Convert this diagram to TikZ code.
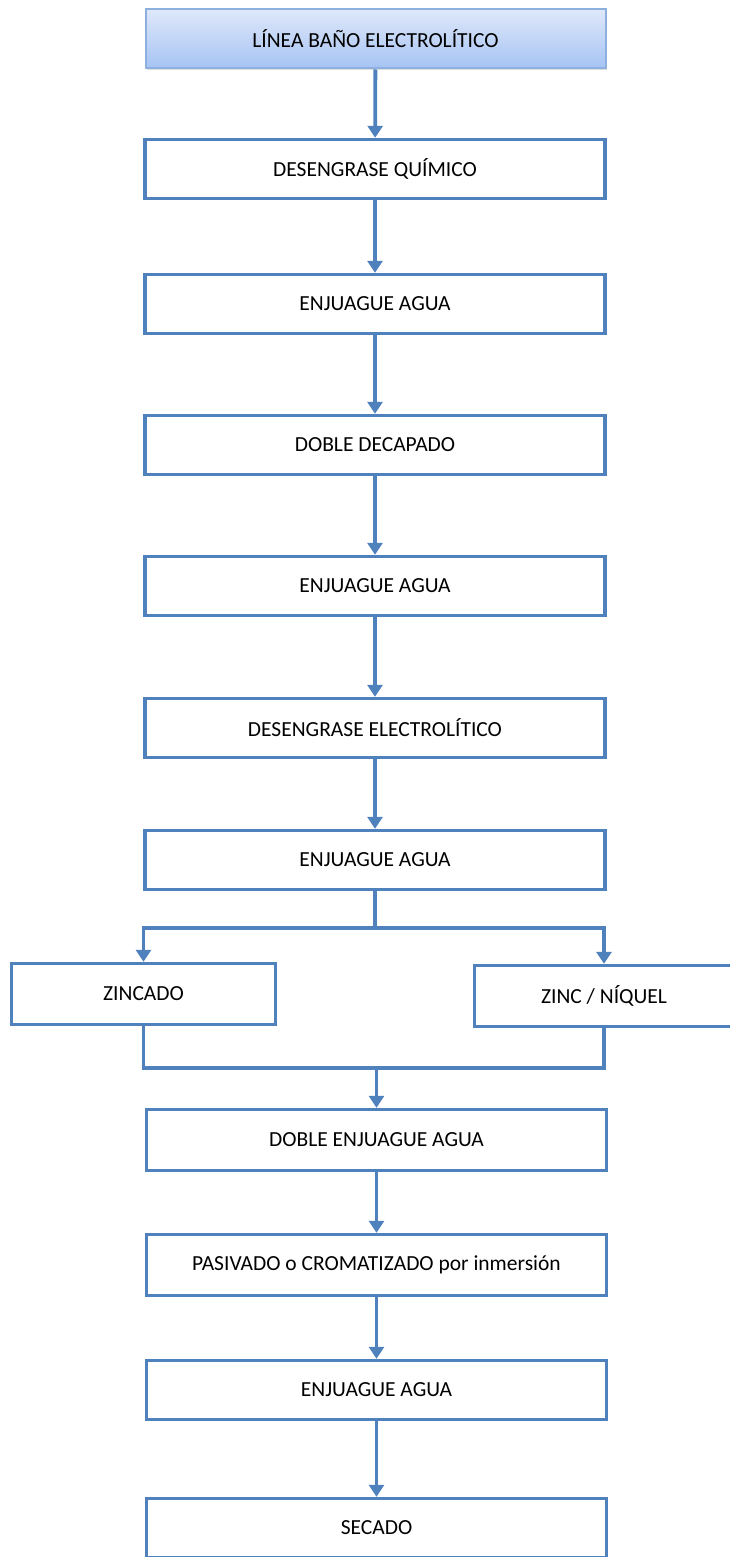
\documentclass[tikz,border=0pt]{standalone}
\usepackage{fontspec}
\setmainfont{Carlito}
\usetikzlibrary{positioning,arrows.meta,shadows}
\definecolor{flowblue}{HTML}{4F81BD}
\definecolor{headtop}{HTML}{DEE8FA}
\definecolor{headbot}{HTML}{A6C3F3}
\definecolor{headline}{HTML}{8DB0DF}
\tikzset{
  stage/.style  ={draw=flowblue, line width=3.4pt, fill=white, minimum width=460pt,
                  minimum height=59pt, inner sep=0pt, font=\fontsize{21.5}{24}\selectfont},
  headbox/.style={stage, draw=headline, line width=2pt, top color=headtop, bottom color=headbot,
                  drop shadow={opacity=0.25, shadow xshift=1.5pt, shadow yshift=-2pt}},
  link/.style   ={draw=flowblue, line width=3.8pt},
  flow/.style   ={link, -{Triangle[width=15pt,length=12pt]}},
}

\begin{document}
\begin{tikzpicture}[x=1pt,y=-1pt]
  \useasboundingbox (0,0) rectangle (729,1557);
  \node[headbox] (linea) at (375.5,39) {LÍNEA BAÑO ELECTROLÍTICO};
  \node[stage] (desqui) at (375,169) {DESENGRASE QUÍMICO};
  \node[stage] (enjA) at (375,304) {ENJUAGUE AGUA};
  \node[stage] (decap) at (375,445) {DOBLE DECAPADO};
  \node[stage] (enjB) at (375,586) {ENJUAGUE AGUA};
  \node[stage] (deselec) at (375,728) {DESENGRASE ELECTROLÍTICO};
  \node[stage] (enjC) at (375,860) {ENJUAGUE AGUA};
  % dos variantes del baño
  \node[stage, minimum width=264pt, minimum height=61pt] (zincado) at (143.5,994) {ZINCADO};
  \node[stage, minimum width=259pt, minimum height=61pt] (zinquel) at (604,996) {ZINC / NÍQUEL};
  \node[stage, minimum height=61pt] (dobenj) at (376.5,1140) {DOBLE ENJUAGUE AGUA};
  \node[stage, minimum height=61pt] (pasiv) at (376.5,1265) {PASIVADO o CROMATIZADO por inmersión};
  \node[stage] (enjD) at (376.5,1390) {ENJUAGUE AGUA};
  \node[stage] (secado) at (376.5,1528) {SECADO};

  \foreach \a/\b in {linea/desqui,desqui/enjA,enjA/decap,decap/enjB,enjB/deselec,
                     deselec/enjC,dobenj/pasiv,pasiv/enjD,enjD/secado}
    \draw[flow] (\a) -- (\b);

  \coordinate (split) at (375,928);
  \coordinate (join) at (376.5,1068);
  \draw[link] (enjC) -- (split);
  \draw[flow] (split) -| (zincado.north);
  \draw[flow] (split) -| (zinquel.north);
  \draw[link] (zincado.south) |- (join);
  \draw[link] (zinquel.south) |- (join);
  \draw[flow] (join) -- (dobenj);
\end{tikzpicture}
\end{document}
